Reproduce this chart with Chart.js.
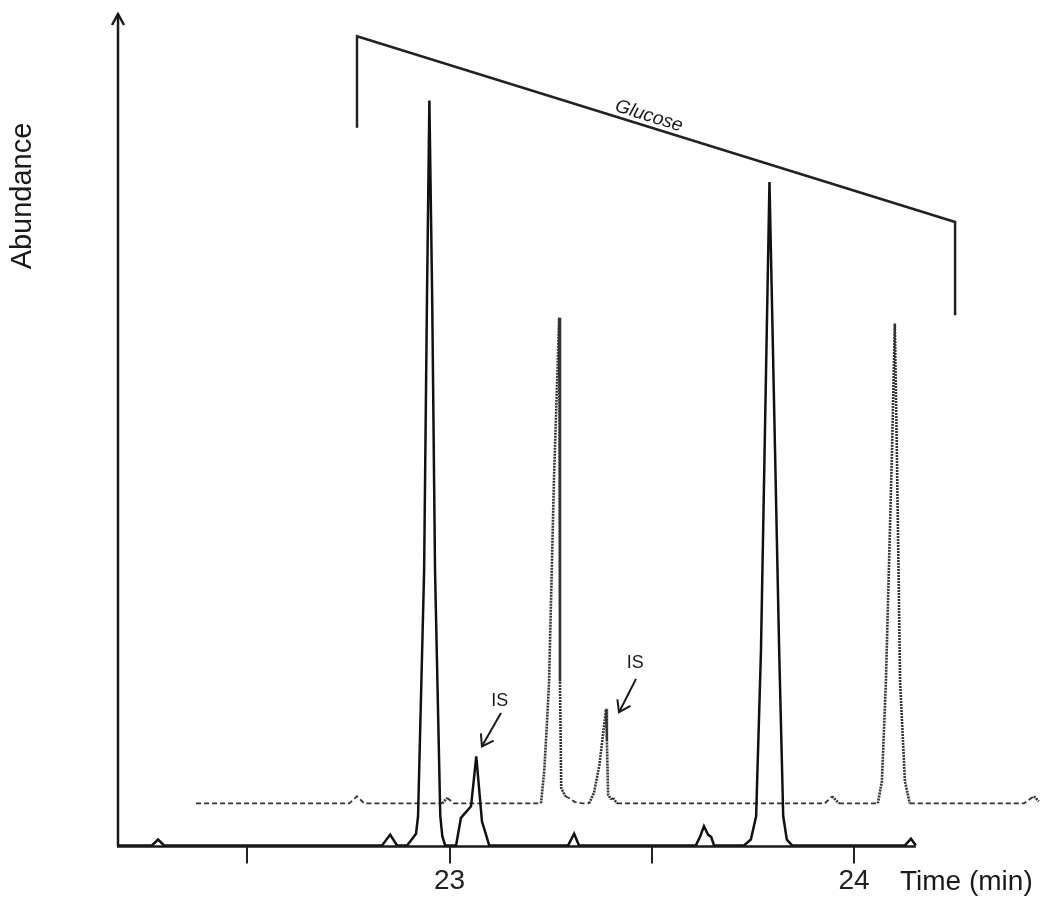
<!DOCTYPE html>
<html>
<head>
<meta charset="utf-8">
<script src="https://cdn.jsdelivr.net/npm/chart.js@4.4.1/dist/chart.umd.min.js"></script>
<style>
  body { margin: 0; background: #fff; }
  canvas { display: block; }
</style>
</head>
<body>
<canvas id="grafico" width="1042" height="899"></canvas>
<script>
// Traza continua (tiempo en min, abundancia en unidades arbitrarias 0-100)
const tiempoSolida = [
    22.18, 22.264, 22.279, 22.294, 22.833, 22.853, 22.870, 22.895, 22.917, 22.922,
    22.937, 22.944, 22.950, 22.957, 22.964, 22.977, 22.982, 22.989, 23.016, 23.028,
    23.053, 23.066, 23.080, 23.098, 23.293, 23.308, 23.320, 23.609, 23.619, 23.629,
    23.639, 23.647, 23.654, 23.728, 23.745, 23.758, 23.770, 23.791, 23.815, 23.825,
    23.834, 23.847, 24.126, 24.141, 24.153
];
const abundSolida = [
    0, 0, 0.7, 0, 0, 1.3, 0, 0, 1.4, 3.5,
    33.0, 65.5, 89.5, 65.5, 33.0, 3.5, 1.1, 0, 0, 3.3,
    4.7, 10.7, 2.9, 0, 0, 1.4, 0, 0, 1.0, 2.3,
    1.3, 1.0, 0, 0, 0.7, 3.5, 23.4, 79.7, 23.4, 3.5,
    0.7, 0, 0, 0.8, 0
];

// Traza punteada (desplazada)
const tiempoPunteada = [
    22.373, 22.752, 22.771, 22.789, 22.982, 22.994, 23.011, 23.226, 23.234, 23.241,
    23.246, 23.258, 23.271, 23.273, 23.276, 23.286, 23.295, 23.310, 23.328, 23.345,
    23.357, 23.370, 23.387, 23.389, 23.392, 23.399, 23.404, 23.414, 23.928, 23.946,
    23.963, 24.059, 24.069, 24.079, 24.094, 24.101, 24.106, 24.114, 24.126, 24.138,
    24.420, 24.445, 24.457
];
const abundPunteada = [
    5.05, 5.05, 5.9, 5.05, 5.05, 5.7, 5.05, 5.05, 8.9, 14.9,
    19.7, 43.8, 63.4, 19.7, 6.9, 5.9, 5.7, 5.2, 5.05, 5.05,
    6.3, 9.5, 16.4, 12.5, 6.1, 5.5, 5.7, 5.05, 5.05, 5.9,
    5.05, 5.05, 7.7, 19.7, 47.4, 62.7, 47.4, 19.7, 7.7, 5.05,
    5.05, 5.9, 5.3
];

// Corchete "Glucose"
const tiempoCorchete = [22.771, 22.771, 24.250, 24.250];
const abundCorchete = [86.2, 97.2, 74.9, 63.7];

// Flechas IS: [tiempo inicio, abund inicio, tiempo punta, abund punta]
const flechasIS = [
    [23.127, 15.9, 23.080, 11.9],
    [23.461, 20.0, 23.419, 16.0]
];
const etiquetasIS = [
    [23.124, 17.4],
    [23.459, 21.9]
];

const marcasX = [22.5, 23, 23.5, 24];
const etiquetasX = ['', '23', '', '24'];
const finEjeX = 24.153;

const fuente = "'Liberation Sans', Arial, sans-serif";

function aPuntos(tiempos, valores) {
    return tiempos.map((t, i) => ({ x: t, y: valores[i] }));
}

const anotaciones = {
    id: 'anotaciones',
    afterDraw(chart) {
        const { ctx, chartArea, scales } = chart;
        const x = scales.x, y = scales.y;
        const y0 = y.getPixelForValue(0);
        ctx.save();
        ctx.strokeStyle = '#1a1a1a';
        ctx.fillStyle = '#1a1a1a';
        ctx.lineWidth = 2.5;

        // eje Y con flecha
        ctx.beginPath();
        ctx.moveTo(chartArea.left, y0 + 1);
        ctx.lineTo(chartArea.left, chartArea.top + 1);
        ctx.stroke();
        ctx.beginPath();
        ctx.moveTo(chartArea.left - 6, chartArea.top + 12);
        ctx.lineTo(chartArea.left, chartArea.top + 1);
        ctx.lineTo(chartArea.left + 6, chartArea.top + 12);
        ctx.stroke();

        // eje X
        ctx.beginPath();
        ctx.moveTo(chartArea.left - 1, y0 + 1);
        ctx.lineTo(x.getPixelForValue(finEjeX), y0 + 1);
        ctx.stroke();

        // titulos de ejes
        ctx.font = `29px ${fuente}`;
        ctx.textAlign = 'center';
        ctx.textBaseline = 'middle';
        ctx.save();
        ctx.translate(chartArea.left - 95, chartArea.top + 183);
        ctx.rotate(-Math.PI / 2);
        ctx.fillText('Abundance', 0, 0);
        ctx.restore();

        ctx.font = `28px ${fuente}`;
        ctx.textAlign = 'left';
        ctx.fillText('Time (min)', x.getPixelForValue(24) + 46, y0 + 37);

        // texto Glucose sobre el corchete
        const ax = x.getPixelForValue(tiempoCorchete[1]), ay = y.getPixelForValue(abundCorchete[1]);
        const bx = x.getPixelForValue(tiempoCorchete[2]), by = y.getPixelForValue(abundCorchete[2]);
        const f = 0.483;
        ctx.save();
        ctx.translate(ax + (bx - ax) * f, ay + (by - ay) * f);
        ctx.rotate(Math.atan2(by - ay, bx - ax));
        ctx.font = `italic 19px ${fuente}`;
        ctx.textAlign = 'center';
        ctx.textBaseline = 'alphabetic';
        ctx.fillText('Glucose', 0, -5);
        ctx.restore();

        // flechas IS
        ctx.lineWidth = 2;
        flechasIS.forEach(fl => {
            const x1 = x.getPixelForValue(fl[0]), y1 = y.getPixelForValue(fl[1]);
            const x2 = x.getPixelForValue(fl[2]), y2 = y.getPixelForValue(fl[3]);
            const ang = Math.atan2(y2 - y1, x2 - x1);
            ctx.beginPath();
            ctx.moveTo(x1, y1);
            ctx.lineTo(x2, y2);
            ctx.stroke();
            ctx.beginPath();
            ctx.moveTo(x2 - 13 * Math.cos(ang - 0.6), y2 - 13 * Math.sin(ang - 0.6));
            ctx.lineTo(x2, y2);
            ctx.lineTo(x2 - 13 * Math.cos(ang + 0.6), y2 - 13 * Math.sin(ang + 0.6));
            ctx.stroke();
        });
        ctx.font = `18px ${fuente}`;
        ctx.textAlign = 'center';
        ctx.textBaseline = 'middle';
        etiquetasIS.forEach(e => {
            ctx.fillText('IS', x.getPixelForValue(e[0]), y.getPixelForValue(e[1]));
        });
        ctx.restore();
    }
};

const ctx = document.getElementById('grafico').getContext('2d');
const miGrafico = new Chart(ctx, {
    type: 'line',
    data: {
        datasets: [
            {
                data: aPuntos(tiempoSolida, abundSolida),
                borderColor: '#111',
                borderWidth: 2.5,
                pointRadius: 0,
                tension: 0,
                clip: 6
            },
            {
                data: aPuntos(tiempoPunteada, abundPunteada),
                borderColor: '#333',
                borderWidth: 2,
                pointRadius: 0,
                tension: 0,
                clip: 6,
                segment: {
                    // tramos empinados con punteado fino, linea base con guiones
                    borderDash: c => Math.abs(c.p1.y - c.p0.y) > Math.abs(c.p1.x - c.p0.x) ? [2, 1] : [5, 3],
                    borderWidth: c => Math.abs(c.p1.y - c.p0.y) > Math.abs(c.p1.x - c.p0.x) ? 2.6 : 1.8
                }
            },
            {
                data: aPuntos(tiempoCorchete, abundCorchete),
                borderColor: '#222',
                borderWidth: 2.5,
                pointRadius: 0,
                tension: 0,
                clip: false
            }
        ]
    },
    options: {
        responsive: false,
        animation: false,
        devicePixelRatio: 1,
        layout: { padding: { left: 118, top: 13, right: 2, bottom: 0 } },
        plugins: { legend: { display: false }, tooltip: { enabled: false } },
        scales: {
            x: {
                type: 'linear',
                min: 22.18,
                max: 24.46,
                border: { display: false },
                grid: { drawOnChartArea: false, drawTicks: true, tickLength: 18, color: '#222', lineWidth: 2 },
                ticks: {
                    font: { family: fuente, size: 28 },
                    color: '#222',
                    padding: 1,
                    maxRotation: 0,
                    autoSkip: false,
                    callback: (v, i) => etiquetasX[i]
                },
                afterBuildTicks: escala => {
                    escala.ticks = marcasX.map(v => ({ value: v }));
                }
            },
            y: {
                display: false,
                min: 0,
                max: 100
            }
        }
    },
    plugins: [anotaciones]
});
</script>
</body>
</html>
